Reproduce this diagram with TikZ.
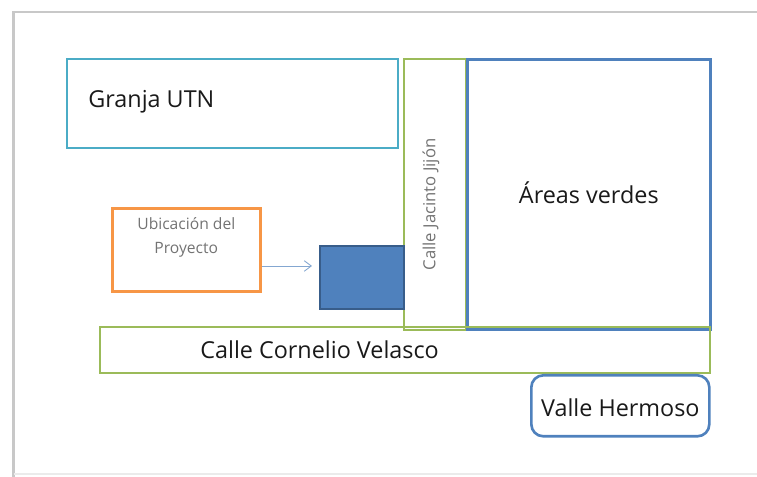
\documentclass[tikz,border=0pt]{standalone}
\usepackage{fontspec}
\setmainfont{Open Sans}
\usetikzlibrary{positioning,arrows.meta}

\definecolor{aguamarina}{HTML}{4BACC6}
\definecolor{verde}{HTML}{9BBB59}
\definecolor{azul}{HTML}{4F81BD}
\definecolor{azuloscuro}{HTML}{385D8A}
\definecolor{naranja}{HTML}{F79646}
\definecolor{marco}{HTML}{C8C8C8}

\tikzstyle{zona} = [draw, rectangle, inner sep=0pt, anchor=north west]
\tikzstyle{calle} = [zona, draw=verde, line width=1.1pt]
\tikzstyle{rotulo} = [inner sep=0pt, text=black!90, font=\fontsize{13.3}{16}\selectfont]
\tikzstyle{rotulochico} = [inner sep=0pt, text=black!55, font=\fontsize{8.9}{14}\selectfont]

\begin{document}
\begin{tikzpicture}
    \useasboundingbox (0,0) rectangle (15.14,-9.54);
    % marco de la pagina
    \draw[marco, line width=1.2pt] (0.27,-9.54) -- (0.27,-0.24) -- (15.14,-0.24);
    \draw[black!8, line width=0.6pt] (0.27,-9.48) -- (15.14,-9.48);

    \node[zona, draw=aguamarina, line width=1.3pt, minimum width=6.62cm, minimum height=1.78cm]
        (granja) at (1.32,-1.16) {};
    \node[rotulo, right=0.44cm, yshift=0.04cm] (granjatxt) at (granja.west) {Granja UTN};

    \node[calle, minimum width=1.24cm, minimum height=5.42cm] (jacinto) at (8.06,-1.16) {};
    % rotado: xshift baja, yshift va a la izquierda
    \node[rotulochico, font=\fontsize{9.5}{12}\selectfont, rotate=90, xshift=-0.2cm, yshift=0.08cm]
        (jacintotxt) at (jacinto.center) {Calle Jacinto Jijón};

    \node[zona, draw=azul, line width=1.5pt, minimum width=4.86cm, minimum height=5.40cm]
        (areas) at (9.32,-1.16) {};
    \node[rotulo, yshift=0.04cm] (areastxt) at (areas.center) {Áreas verdes};

%------------ ubicacion del proyecto ---------------------
    \node[zona, draw=naranja, line width=1.5pt, minimum width=2.96cm, minimum height=1.66cm]
        (ubicacion) at (2.22,-4.14) {};
    \node[rotulochico, align=center, below=0.2cm] (ubicaciontxt) at (ubicacion.north)
        {Ubicación del\\Proyecto};

    \node[zona, fill=azul, draw=azuloscuro, line width=1.1pt, minimum width=1.68cm, minimum height=1.26cm]
        (proyecto) at (6.38,-4.90) {};

    \draw[azul!70, line width=0.5pt, -{Straight Barb[length=4pt,width=6pt]}, shorten >=0.14cm]
        (ubicacion.east |- 0,-5.32) -- (proyecto.west |- 0,-5.32);

%------------ calles ---------------------
    \node[calle, minimum width=12.2cm, minimum height=0.92cm] (cornelio) at (1.98,-6.52) {};
    \node[rotulo, right=2.02cm] (corneliotxt) at (cornelio.west) {Calle Cornelio Velasco};

    \node[zona, draw=azul, line width=1.5pt, rounded corners=0.24cm, minimum width=3.56cm, minimum height=1.22cm]
        (valle) at (10.60,-7.48) {};
    \node[rotulo, yshift=-0.04cm] (valletxt) at (valle.center) {Valle Hermoso};
\end{tikzpicture}
\end{document}
